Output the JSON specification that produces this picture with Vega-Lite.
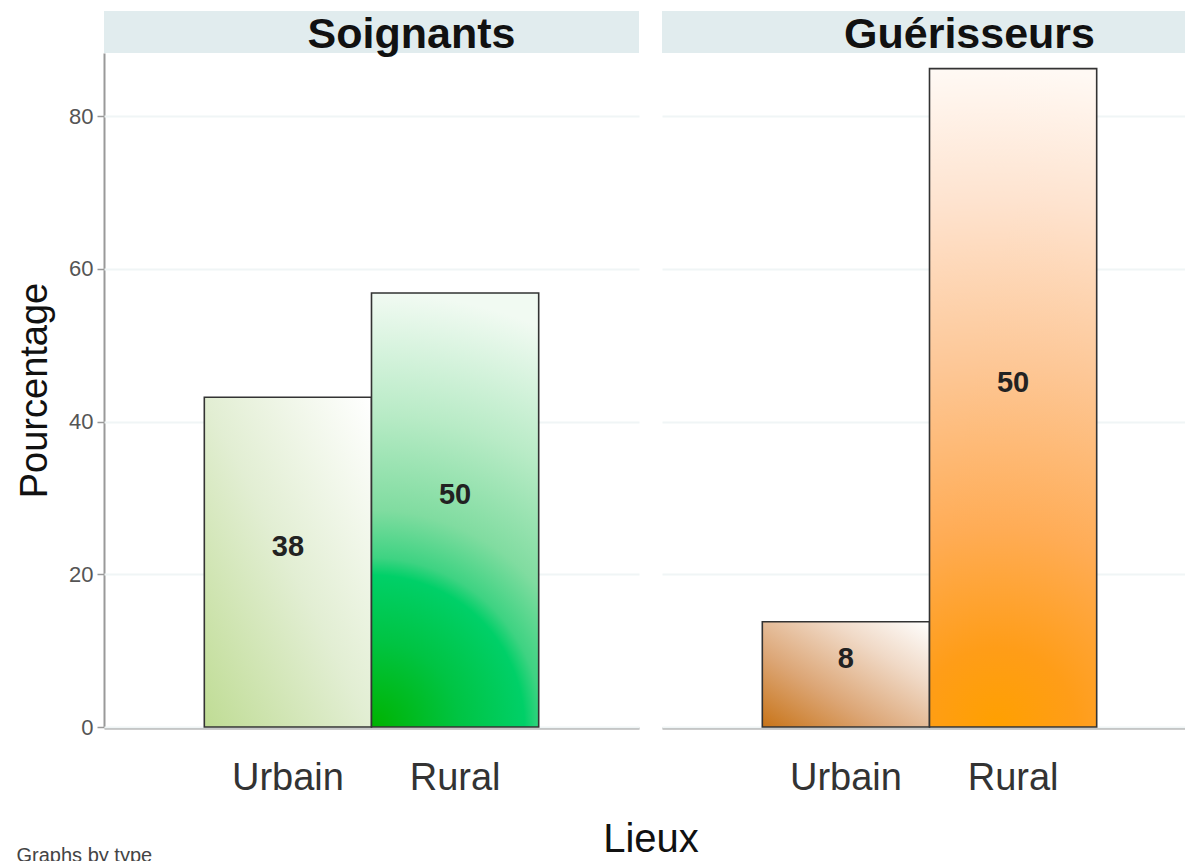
{
  "$schema": "https://vega.github.io/schema/vega-lite/v6.json",
  "padding": {"left": 16, "top": 10, "right": 5, "bottom": 5},
  "background": "white",
  "title": {"text": "Graphs by type", "orient": "bottom", "anchor": "start", "frame": "bounds", "fontSize": 20, "fontWeight": "normal", "color": "#444", "font": "Liberation Sans", "offset": -14},
  "data": {"values": [
    {"type": "Soignants", "lieu": "Urbain", "pct": 43.18, "n": 38},
    {"type": "Soignants", "lieu": "Rural", "pct": 56.82, "n": 50},
    {"type": "Guérisseurs", "lieu": "Urbain", "pct": 13.79, "n": 8},
    {"type": "Guérisseurs", "lieu": "Rural", "pct": 86.21, "n": 50}
  ]},
  "facet": {
    "column": {
      "field": "type", "type": "nominal", "sort": ["Soignants", "Guérisseurs"],
      "header": {"labels": false, "title": "Lieux", "titleOrient": "bottom", "titleFontSize": 40, "titleFontWeight": "normal", "titleColor": "#111", "titleFont": "Liberation Sans", "titlePadding": 13}
    }
  },
  "spacing": 23,
  "spec": {
    "width": 535,
    "height": 674,
    "layer": [
      {
        "transform": [{"aggregate": [{"op": "count", "as": "k"}], "groupby": ["type"]}],
        "mark": {"type": "rect", "color": "#e1ecee"},
        "encoding": {
          "y": {"datum": 88.25, "type": "quantitative", "scale": {"domain": [0, 88.25], "nice": false, "zero": true}},
          "y2": {"datum": 93.75}
        }
      },
      {
        "transform": [{"aggregate": [{"op": "count", "as": "k"}], "groupby": ["type"]}],
        "mark": {"type": "text", "fontSize": 43, "fontWeight": "bold", "font": "Liberation Sans", "color": "#111", "baseline": "middle", "dx": 40},
        "encoding": {
          "y": {"datum": 90.6, "type": "quantitative"},
          "text": {"field": "type"}
        }
      },
      {
        "mark": {"type": "bar", "stroke": "#333333", "strokeWidth": 1.6},
        "encoding": {
          "x": {"field": "lieu", "type": "nominal", "sort": ["Urbain", "Rural"], "scale": {"paddingInner": 0, "paddingOuter": 0.6},
                "axis": {"title": null, "labelAngle": 0, "ticks": false, "labelFontSize": 38, "labelColor": "#333", "labelFont": "Liberation Sans", "labelPadding": 31, "domainColor": "#999", "domainWidth": 2}},
          "y": {"field": "pct", "type": "quantitative", "scale": {"domain": [0, 88.25], "nice": false, "zero": true},
                "axis": {"title": "Pourcentage", "values": [0, 20, 40, 60, 80], "titleFontSize": 38, "titleFontWeight": "normal", "titleColor": "#111", "titleFont": "Liberation Sans", "titlePadding": 14,
                         "labelFontSize": 22, "labelColor": "#555", "labelFont": "Liberation Sans", "labelPadding": 4, "tickSize": 7, "tickColor": "#999", "tickWidth": 1.5,
                         "domainColor": "#999", "domainWidth": 2, "grid": true, "gridColor": "#f0f5f6", "gridWidth": 2}},
          "fill": {
            "condition": [
              {"test": "datum.type === 'Soignants' && datum.lieu === 'Urbain'", "value": {"gradient": "linear", "x1": 0, "y1": 1, "x2": 1, "y2": 0, "stops": [{"offset": 0, "color": "#bfdc94"}, {"offset": 0.5, "color": "#e2eed3"}, {"offset": 1, "color": "#ffffff"}]}},
              {"test": "datum.type === 'Soignants' && datum.lieu === 'Rural'", "value": {"gradient": "radial", "x1": 0.31, "y1": 1, "r1": 0, "x2": 0.31, "y2": 1, "r2": 1, "stops": [{"offset": 0, "color": "#00b300"}, {"offset": 0.2, "color": "#00c443"}, {"offset": 0.35, "color": "#00d068"}, {"offset": 0.39, "color": "#3ed382"}, {"offset": 0.5, "color": "#80dca0"}, {"offset": 0.72, "color": "#b8ebc6"}, {"offset": 1, "color": "#f1faf2"}]}},
              {"test": "datum.type === 'Guérisseurs' && datum.lieu === 'Urbain'", "value": {"gradient": "linear", "x1": 0, "y1": 1, "x2": 1, "y2": 0, "stops": [{"offset": 0, "color": "#c87418"}, {"offset": 0.35, "color": "#dca676"}, {"offset": 0.7, "color": "#f0d9c6"}, {"offset": 1, "color": "#ffffff"}]}},
              {"test": "datum.type === 'Guérisseurs' && datum.lieu === 'Rural'", "value": {"gradient": "radial", "x1": 0.475, "y1": 1, "r1": 0, "x2": 0.475, "y2": 1, "r2": 1, "stops": [{"offset": 0, "color": "#ffa000"}, {"offset": 0.12, "color": "#ff9d18"}, {"offset": 0.3, "color": "#ffac55"}, {"offset": 0.55, "color": "#fdc796"}, {"offset": 0.8, "color": "#fee3cf"}, {"offset": 1, "color": "#fff9f4"}]}}
            ],
            "value": "#cccccc"
          }
        }
      },
      {
        "transform": [{"calculate": "datum.pct / 2", "as": "mid"}],
        "mark": {"type": "text", "fontSize": 29, "fontWeight": "bold", "font": "Liberation Sans", "color": "#222", "baseline": "middle", "dy": -15},
        "encoding": {
          "x": {"field": "lieu", "type": "nominal", "sort": ["Urbain", "Rural"]},
          "y": {"field": "mid", "type": "quantitative"},
          "text": {"field": "n", "type": "quantitative"}
        }
      }
    ]
  },
  "config": {"view": {"stroke": null}, "font": "Liberation Sans"}
}
